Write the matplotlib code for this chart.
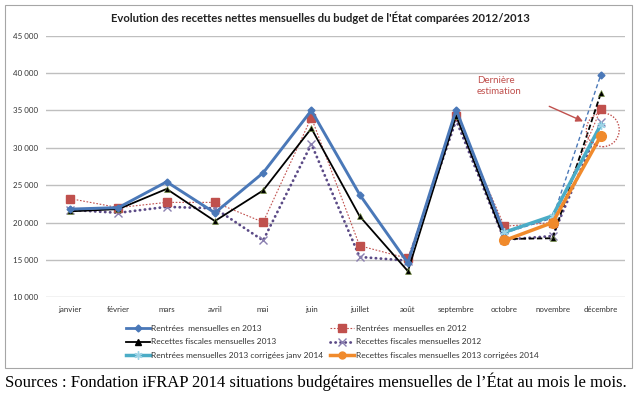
import matplotlib
matplotlib.use("Agg")
import matplotlib.pyplot as plt
from matplotlib.patches import Ellipse, Rectangle
from matplotlib.lines import Line2D
import numpy as np

plt.rcParams['font.family'] = ['Lato', 'DejaVu Sans']

months = ['janvier', 'février', 'mars', 'avril', 'mai', 'juin', 'juillet',
          'août', 'septembre', 'octobre', 'novembre', 'décembre']
rentrees_2013 = [21800, 22000, 25450, 21300, 26650, 35000, 23750, 14600, 35100, 18600, 20600, 39800]
rentrees_2012 = [23200, 22000, 22700, 22700, 20050, 34050, 16900, 15200, 34300, 19500, 20000, 35200]
fiscales_2013 = [21500, 21800, 24500, 20200, 24300, 32600, 20850, 13500, 34300, 17800, 17900, 37300]
fiscales_2012 = [21700, 21300, 22100, 21900, 17600, 30500, 15400, 14900, 33700, 17700, 18200, 33400]
rentrees_2013_corr = [np.nan] * 9 + [18700, 20900, 33100]
fiscales_2013_corr = [np.nan] * 9 + [17600, 20000, 31600]
yticks = [10000, 15000, 20000, 25000, 30000, 35000, 40000, 45000]
ytick_labels = ['10 000', '15 000', '20 000', '25 000', '30 000', '35 000', '40 000', '45 000']

labels = ['Rentrées  mensuelles en 2013', 'Recettes fiscales mensuelles 2013',
          'Rentrées mensuelles 2013 corrigées janv 2014', 'Rentrées  mensuelles en 2012',
          'Recettes fiscales mensuelles 2012', 'Recettes fiscales mensuelles 2013 corrigées 2014']

BLUE = '#4A78B8'
RED = '#C0504D'
PURPLE = '#5B4A86'
CYAN = '#4BACC6'
ORANGE = '#F08A2C'

fig = plt.figure(figsize=(6.4, 3.95), dpi=100)
# chart frame
fig.add_artist(Rectangle((5 / 640, 1 - 368 / 395), 627 / 640, 363 / 395,
                         transform=fig.transFigure, fill=False, edgecolor='#A6A6A6', lw=0.8))

ax = fig.add_axes([46 / 640, 1 - 297.3 / 395, 579 / 640, (297.3 - 35.7) / 395])
x = np.arange(len(months))

ax.set_xlim(-0.5, 11.5)
ax.set_ylim(10000, 45000)
ax.set_yticks(yticks)
ax.set_yticklabels(ytick_labels)
ax.set_xticks(x)
ax.set_xticklabels(months)
ax.tick_params(length=0, labelsize=5.7, colors='#333333', pad=6)
ax.tick_params(axis='y', pad=6)
ax.grid(axis='y', color='#BFBFBF', lw=1)
ax.set_axisbelow(True)
for s in ax.spines.values():
    s.set_visible(False)

PURPLE_LS = (0, (0.1, 1.7))

# 2012 series
ax.plot(x, fiscales_2012, color=PURPLE, lw=2.0, linestyle=PURPLE_LS,
        dash_capstyle='round', marker='x', ms=6, mew=1, mec='#8A7FB0', zorder=3)
ax.plot(x, rentrees_2012, color=RED, lw=0.8, linestyle=(0, (1.5, 1.5)),
        marker='s', ms=5.5, mfc=RED, mec=RED, zorder=4)

# 2013 series: solid until October, dashed after
ax.plot(x[:10], fiscales_2013[:10], color='black', lw=1.3, marker='^', ms=4.5,
        mfc='black', mec='#7A9A40', mew=0.4, zorder=5)
ax.plot(x[9:], fiscales_2013[9:], color='black', lw=1.3, linestyle=(0, (3, 1.5)),
        marker='^', ms=4.5, mfc='black', mec='#7A9A40', mew=0.4, zorder=5)
ax.plot(x[:10], rentrees_2013[:10], color=BLUE, lw=2.1, marker='D', ms=3.5,
        mfc=BLUE, mec=BLUE, zorder=6)
ax.plot(x[9:], rentrees_2013[9:], color=BLUE, lw=1.0, linestyle=(0, (3, 2)),
        marker='D', ms=3.5, mfc=BLUE, mec=BLUE, zorder=6)

# corrected series
ax.plot(x, rentrees_2013_corr, color=CYAN, lw=2.5, marker=(6, 2, 0), ms=6,
        mec='#9DD3E6', mew=1, zorder=7)
ax.plot(x, fiscales_2013_corr, color=ORANGE, lw=2.5, marker='o', ms=7,
        mfc=ORANGE, mec=ORANGE, zorder=7)

# annotation
ax.text(8.43, 38250, 'Dernière\nestimation', color=RED, fontsize=7,
        ha='left', va='center', linespacing=1.3)
ax.annotate('', xy=(10.63, 33540), xytext=(9.93, 35550),
            arrowprops=dict(arrowstyle='-|>', color=RED, lw=1.0,
                            mutation_scale=10, shrinkA=0, shrinkB=0))
ax.add_patch(Ellipse((11.04, 32400), 0.68, 4500, fill=False, edgecolor=RED,
                     lw=1.0, linestyle=(0, (1, 1.2)), zorder=8))

fig.text(0.5, 1 - 18 / 395, "Evolution des recettes nettes mensuelles du budget de l'État comparées 2012/2013",
         ha='center', va='center', fontsize=8.1, fontweight='bold', color='#222222')

# legend
handles = [
    Line2D([], [], color=BLUE, lw=2.0, marker='D', ms=3.5),
    Line2D([], [], color='black', lw=1.3, marker='^', ms=4.5),
    Line2D([], [], color=CYAN, lw=2.5, marker=(6, 2, 0), ms=6, mec='#9DD3E6'),
    Line2D([], [], color=RED, lw=0.8, linestyle=(0, (1.5, 1.5)), marker='s', ms=5.5),
    Line2D([], [], color=PURPLE, lw=2.0, linestyle=PURPLE_LS, dash_capstyle='round',
           marker='x', ms=6, mec='#8A7FB0'),
    Line2D([], [], color=ORANGE, lw=2.5, marker='o', ms=5),
]
fig.legend(handles, labels, ncol=2, loc='center left',
           bbox_to_anchor=(118 / 640, 1 - 342 / 395), frameon=False, fontsize=6,
           handlelength=2.9, handletextpad=0.2, columnspacing=0.8, labelspacing=0.8,
           labelcolor='#333333')

fig.text(5 / 640, 1 - 382 / 395,
         "Sources : Fondation iFRAP 2014 situations budgétaires mensuelles de l’État au mois le mois.",
         ha='left', va='center', fontsize=12, family=['Liberation Serif', 'DejaVu Serif'])

fig.savefig('out.png', dpi=100)
